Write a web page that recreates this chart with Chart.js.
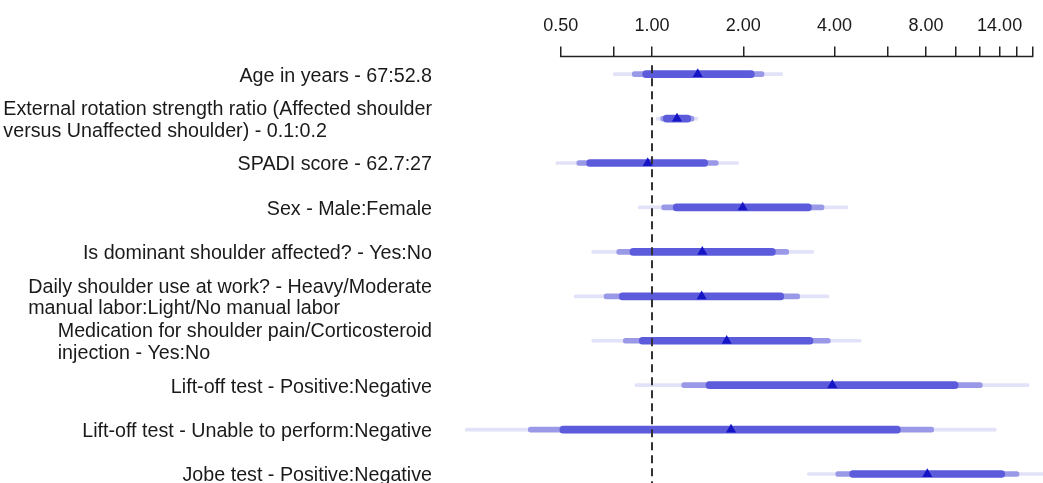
<!DOCTYPE html>
<html>
<head>
<meta charset="utf-8">
<script src="https://cdn.jsdelivr.net/npm/chart.js@4/dist/chart.umd.min.js"></script>
<style>
  html, body { margin: 0; padding: 0; background: #fff; }
  #wrap { width: 1043px; height: 483px; }
</style>
</head>
<body>
<div id="wrap"><canvas id="forest" width="1043" height="483"></canvas></div>
<script>
// Row labels (each row may have several lines)
const rowLabels = [
  ['Age in years - 67:52.8'],
  ['External rotation strength ratio (Affected shoulder', 'versus Unaffected shoulder) - 0.1:0.2'],
  ['SPADI score - 62.7:27'],
  ['Sex - Male:Female'],
  ['Is dominant shoulder affected? - Yes:No'],
  ['Daily shoulder use at work? - Heavy/Moderate', 'manual labor:Light/No manual labor'],
  ['Medication for shoulder pain/Corticosteroid', 'injection - Yes:No'],
  ['Lift-off test - Positive:Negative'],
  ['Lift-off test - Unable to perform:Negative'],
  ['Jobe test - Positive:Negative'],
];

// point estimates (odds ratios)
const estimates = [1.415, 1.209, 0.968, 1.991, 1.465, 1.458, 1.763, 3.931, 1.822, 8.085];

// confidence intervals, narrow to wide
const ci90 = [[0.932, 2.174], [1.090, 1.342], [0.609, 1.526], [1.175, 3.352], [0.846, 2.550],
              [0.780, 2.718], [0.908, 3.395], [1.507, 10.21], [0.497, 6.587], [4.486, 14.55]];
const ci95 = [[0.861, 2.341], [1.068, 1.376], [0.565, 1.654], [1.076, 3.691], [0.765, 2.823],
              [0.695, 3.069], [0.804, 3.872], [1.253, 12.28], [0.391, 8.488], [4.034, 16.22]];
const ci99 = [[0.745, 2.698], [1.031, 1.418], [0.482, 1.931], [0.901, 4.428], [0.633, 3.413],
              [0.554, 3.834], [0.633, 4.899], [0.879, 17.50], [0.242, 13.65], [3.252, 24.0]];

// axis ticks
const tickValues = [0.5, 0.75, 1, 2, 4, 6, 8, 10, 12, 14, 16, 18];
const tickLabels = ['0.50', '', '1.00', '2.00', '4.00', '', '8.00', '', '', '14.00', '', ''];
const refValue = 1;

const FONT = '"Liberation Sans", Arial, Helvetica, sans-serif';

function ciBars(ci, thickness, color, order) {
  return {
    type: 'bar',
    indexAxis: 'y',
    data: ci.map((r, i) => ({ x: r, y: i })),
    backgroundColor: color,
    borderWidth: 0,
    borderSkipped: false,
    borderRadius: thickness / 2,
    barThickness: thickness,
    grouped: false,
    order: order,
  };
}

// axis line from first to last tick, dashed reference line, row labels
const forestExtras = {
  id: 'forestExtras',
  beforeDatasetDraw(chart, args) {
    if (args.index !== 3) return;
    const { ctx, scales: { x, y } } = chart;
    const px = Math.round(x.getPixelForValue(refValue));
    ctx.save();
    ctx.strokeStyle = '#333';
    ctx.lineWidth = 2;
    ctx.setLineDash([8, 5]);
    ctx.beginPath();
    ctx.moveTo(px, y.getPixelForValue(-0.2));
    ctx.lineTo(px, chart.height);
    ctx.stroke();
    ctx.restore();
  },
  afterDraw(chart) {
    const { ctx, scales: { x, y } } = chart;
    ctx.save();
    // axis line
    ctx.strokeStyle = '#222';
    ctx.lineWidth = 1.5;
    ctx.beginPath();
    ctx.moveTo(x.getPixelForValue(tickValues[0]) - 0.75, x.bottom);
    ctx.lineTo(x.getPixelForValue(tickValues[tickValues.length - 1]) + 0.75, x.bottom);
    ctx.stroke();

    // row labels, lines left-aligned, block right-aligned
    ctx.font = '19.7px ' + FONT;
    ctx.fillStyle = '#1a1a1a';
    ctx.textAlign = 'left';
    ctx.textBaseline = 'middle';
    const right = 432;
    const lineH = 21.5;
    rowLabels.forEach((lines, i) => {
      const w = Math.max(...lines.map(l => ctx.measureText(l).width));
      const x0 = right - w;
      const yc = y.getPixelForValue(i) + 2;
      const y0 = yc - (lines.length - 1) * lineH / 2;
      lines.forEach((l, k) => ctx.fillText(l, x0, y0 + k * lineH));
    });
    ctx.restore();
  },
};

const chart = new Chart(document.getElementById('forest'), {
  data: {
    datasets: [
      ciBars(ci99, 3, '#e2e2f8', 3),
      ciBars(ci95, 5, '#9999e7', 2),
      ciBars(ci90, 7, '#5b5bdb', 1),
      {
        type: 'scatter',
        data: estimates.map((v, i) => ({ x: v, y: i })),
        pointStyle: 'triangle',
        pointRadius: 5.8,
        pointHoverRadius: 5.8,
        backgroundColor: '#1515c6',
        borderColor: '#1515c6',
        borderWidth: 0,
        order: 0,
      },
    ],
  },
  options: {
    responsive: false,
    animation: false,
    events: [],
    layout: {
      autoPadding: false,
      padding: { left: 440, right: 0, top: 4.9, bottom: 0 },
    },
    plugins: {
      legend: { display: false },
      tooltip: { enabled: false },
    },
    scales: {
      x: {
        type: 'logarithmic',
        position: 'top',
        min: 0.2,
        max: 19.46,
        afterBuildTicks: (axis) => {
          axis.ticks = tickValues.map(v => ({ value: v }));
        },
        ticks: {
          autoSkip: false,
          maxRotation: 0,
          padding: 10,
          color: '#1a1a1a',
          font: { family: FONT, size: 18, lineHeight: 1.2 },
          callback: (value) => {
            const k = tickValues.indexOf(value);
            return k >= 0 ? tickLabels[k] : '';
          },
        },
        grid: {
          display: true,
          drawOnChartArea: false,
          drawTicks: true,
          tickLength: 10,
          color: '#222',
          lineWidth: 1.5,
        },
        border: { display: false },
      },
      y: {
        type: 'linear',
        reverse: true,
        offset: false,
        min: -0.397,
        max: 9.202,
        display: false,
      },
    },
  },
  plugins: [forestExtras],
});
</script>
</body>
</html>
